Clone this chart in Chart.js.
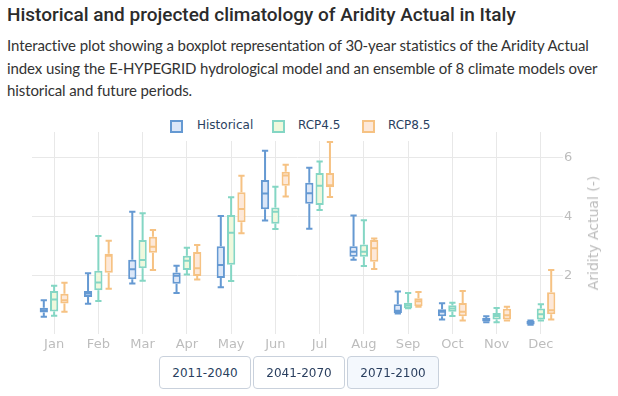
<!DOCTYPE html>
<html>
<head>
<meta charset="utf-8">
<script src="https://cdn.jsdelivr.net/npm/chart.js@4"></script>
<style>
    body { margin: 0; width: 618px; height: 396px; background: #fff; position: relative; overflow: hidden; }
    .title { position: absolute; left: 7px; top: 3px; font-family: Roboto, sans-serif; font-weight: 500; font-size: 19px; color: #2b2b2b; white-space: nowrap; }
    .subtitle { position: absolute; left: 7px; top: 34px; font-family: Lato, sans-serif; font-size: 15px; letter-spacing: -0.1px; line-height: 22.5px; color: #333; white-space: nowrap; }
    #chart { position: absolute; left: 0; top: 110px; }
    .legend { position: absolute; left: 152px; top: 110px; width: 292px; height: 31px; background: #fff; font-family: 'DejaVu Sans', sans-serif; font-size: 12px; color: #2a3f5f; }
    .legend .icon { position: absolute; top: 10px; width: 9px; height: 9px; border: 2px solid; }
    .legend .label { position: absolute; top: 8px; white-space: nowrap; }
    .ytitle { position: absolute; left: 593px; top: 233px; transform: translate(-50%, -50%) rotate(-90deg); font-family: 'DejaVu Sans', sans-serif; font-size: 14px; color: #bbb; white-space: nowrap; }
    .btn { position: absolute; top: 356px; height: 33px; border: 1px solid #c9d1dc; border-radius: 4px; background: #fff; font-family: 'DejaVu Sans', sans-serif; font-size: 12px; color: #2a3f5f; display: flex; align-items: center; justify-content: center; box-sizing: border-box; }
    .btn.active { background: #f4f8fd; }
</style>
</head>
<body>
<div class="title">Historical and projected climatology of Aridity Actual in Italy</div>
<div class="subtitle">Interactive plot showing a boxplot representation of 30-year statistics of the Aridity Actual<br>index using the E-HYPEGRID hydrological model and an ensemble of 8 climate models over<br>historical and future periods.</div>
<canvas id="chart" width="618" height="250"></canvas>
<div class="legend" id="legend"></div>
<div class="ytitle">Aridity Actual (-)</div>
<div class="btn" style="left:159px;width:92px;">2011-2040</div>
<div class="btn" style="left:253px;width:92px;">2041-2070</div>
<div class="btn active" style="left:347px;width:92px;">2071-2100</div>

<script>
const months = ['Jan', 'Feb', 'Mar', 'Apr', 'May', 'Jun', 'Jul', 'Aug', 'Sep', 'Oct', 'Nov', 'Dec'];
const yTicks = [2, 4, 6];

// Historical
const histMin = [0.60, 1.04, 1.73, 1.41, 1.60, 3.86, 3.58, 2.53, 0.71, 0.51, 0.42, 0.33];
const histQ1 = [0.75, 1.27, 1.87, 1.72, 1.91, 4.24, 4.42, 2.63, 0.73, 0.62, 0.44, 0.34];
const histMed = [0.82, 1.39, 2.21, 1.99, 2.35, 4.77, 4.78, 2.80, 0.81, 0.77, 0.51, 0.40];
const histQ3 = [0.91, 1.47, 2.53, 2.10, 2.99, 5.23, 5.13, 2.99, 1.03, 0.86, 0.56, 0.46];
const histMax = [1.16, 2.07, 4.15, 2.33, 4.01, 6.22, 5.64, 4.03, 1.46, 1.06, 0.62, 0.48];

// RCP4.5
const rcp45Min = [0.64, 1.14, 1.82, 2.03, 1.81, 3.57, 4.21, 2.32, 0.89, 0.63, 0.42, 0.48];
const rcp45Q1 = [0.78, 1.50, 2.24, 2.18, 2.36, 3.75, 4.38, 2.63, 0.89, 0.77, 0.51, 0.51];
const rcp45Med = [1.19, 1.76, 2.52, 2.50, 3.44, 4.15, 5.03, 2.80, 0.99, 0.88, 0.63, 0.69];
const rcp45Q3 = [1.47, 2.16, 3.20, 2.67, 4.04, 4.30, 5.46, 3.05, 1.08, 0.99, 0.73, 0.88];
const rcp45Max = [1.65, 3.33, 4.10, 2.94, 4.64, 5.00, 5.85, 3.87, 1.41, 1.08, 0.90, 1.03];

// RCP8.5
const rcp85Min = [0.77, 1.55, 2.18, 1.86, 3.43, 4.67, 4.65, 2.22, 0.94, 0.48, 0.48, 0.51];
const rcp85Q1 = [1.05, 2.09, 2.77, 1.98, 3.80, 5.03, 4.98, 2.46, 0.96, 0.62, 0.51, 0.69];
const rcp85Med = [1.16, 2.67, 2.97, 2.24, 4.25, 5.38, 5.05, 2.92, 1.13, 0.77, 0.65, 0.82];
const rcp85Q3 = [1.38, 2.73, 3.31, 2.79, 4.81, 5.51, 5.46, 3.20, 1.23, 1.07, 0.87, 1.43];
const rcp85Max = [1.75, 3.17, 3.54, 3.03, 5.37, 5.74, 6.51, 3.25, 1.44, 1.47, 0.94, 2.18];

const series = [
    { name: 'Historical', line: '#6599d2', fill: '#dce7f8', min: histMin, q1: histQ1, med: histMed, q3: histQ3, max: histMax },
    { name: 'RCP4.5', line: '#84d6c4', fill: '#eff8dc', min: rcp45Min, q1: rcp45Q1, med: rcp45Med, q3: rcp45Q3, max: rcp45Max },
    { name: 'RCP8.5', line: '#f6c283', fill: '#fde8d9', min: rcp85Min, q1: rcp85Q1, med: rcp85Med, q3: rcp85Q3, max: rcp85Max }
];

// whiskers, caps and medians on top of the floating bars
const boxPlugin = {
    id: 'boxWhiskers',
    afterDatasetsDraw(chart) {
        const ctx = chart.ctx;
        const y = chart.scales.y;
        chart.data.datasets.forEach((ds, i) => {
            const s = series[i];
            chart.getDatasetMeta(i).data.forEach((bar, j) => {
                const { x, width } = bar.getProps(['x', 'width'], true);
                const half = width / 2;
                const cap = half - 1;
                const yMin = y.getPixelForValue(s.min[j]);
                const yQ1 = y.getPixelForValue(s.q1[j]);
                const yMed = y.getPixelForValue(s.med[j]);
                const yQ3 = y.getPixelForValue(s.q3[j]);
                const yMax = y.getPixelForValue(s.max[j]);
                ctx.save();
                ctx.strokeStyle = s.line;
                ctx.lineWidth = 2;
                ctx.beginPath();
                ctx.moveTo(x - half + 1, yMed); ctx.lineTo(x + half - 1, yMed);
                ctx.moveTo(x, yQ3); ctx.lineTo(x, yMax);
                ctx.moveTo(x - cap, yMax); ctx.lineTo(x + cap, yMax);
                ctx.moveTo(x, yQ1); ctx.lineTo(x, yMin);
                ctx.moveTo(x - cap, yMin); ctx.lineTo(x + cap, yMin);
                ctx.stroke();
                ctx.restore();
            });
        });
    }
};

const tickFont = { family: 'DejaVu Sans', size: 13 };

new Chart(document.getElementById('chart'), {
    type: 'bar',
    data: {
        labels: months,
        datasets: series.map(s => ({
            label: s.name,
            data: s.q1.map((v, j) => [v, s.q3[j]]),
            backgroundColor: s.fill,
            borderColor: s.line,
            borderWidth: 2,
            borderSkipped: false,
            categoryPercentage: 0.7,
            barPercentage: 0.8
        }))
    },
    options: {
        responsive: false,
        animation: false,
        layout: { padding: { left: 32, top: 22, right: 0, bottom: 0 } },
        plugins: { legend: { display: false }, tooltip: { enabled: false } },
        scales: {
            x: {
                grid: { offset: false, color: '#e8e8e8', drawTicks: false },
                border: { display: false },
                ticks: { color: '#bdbdbd', font: tickFont, padding: 3 },
                afterFit(scale) { scale.height = 26; }
            },
            y: {
                position: 'right',
                min: 0.02,
                max: 6.85,
                grid: { color: '#e8e8e8', drawTicks: false },
                border: { display: false },
                ticks: { color: '#bdbdbd', font: tickFont, padding: 1, stepSize: 2, includeBounds: false },
                afterBuildTicks(scale) { scale.ticks = yTicks.map(v => ({ value: v })); },
                afterFit(scale) { scale.width = 55; }
            }
        }
    },
    plugins: [boxPlugin]
});

// legend as plain html over the plot
const legendPos = [[18, 45], [120, 146], [210, 236]];
const legend = document.getElementById('legend');
series.forEach((s, i) => {
    const icon = document.createElement('div');
    icon.className = 'icon';
    icon.style.left = legendPos[i][0] + 'px';
    icon.style.borderColor = s.line;
    icon.style.background = s.fill;
    legend.appendChild(icon);
    const label = document.createElement('div');
    label.className = 'label';
    label.style.left = legendPos[i][1] + 'px';
    label.textContent = s.name;
    legend.appendChild(label);
});
</script>
</body>
</html>
